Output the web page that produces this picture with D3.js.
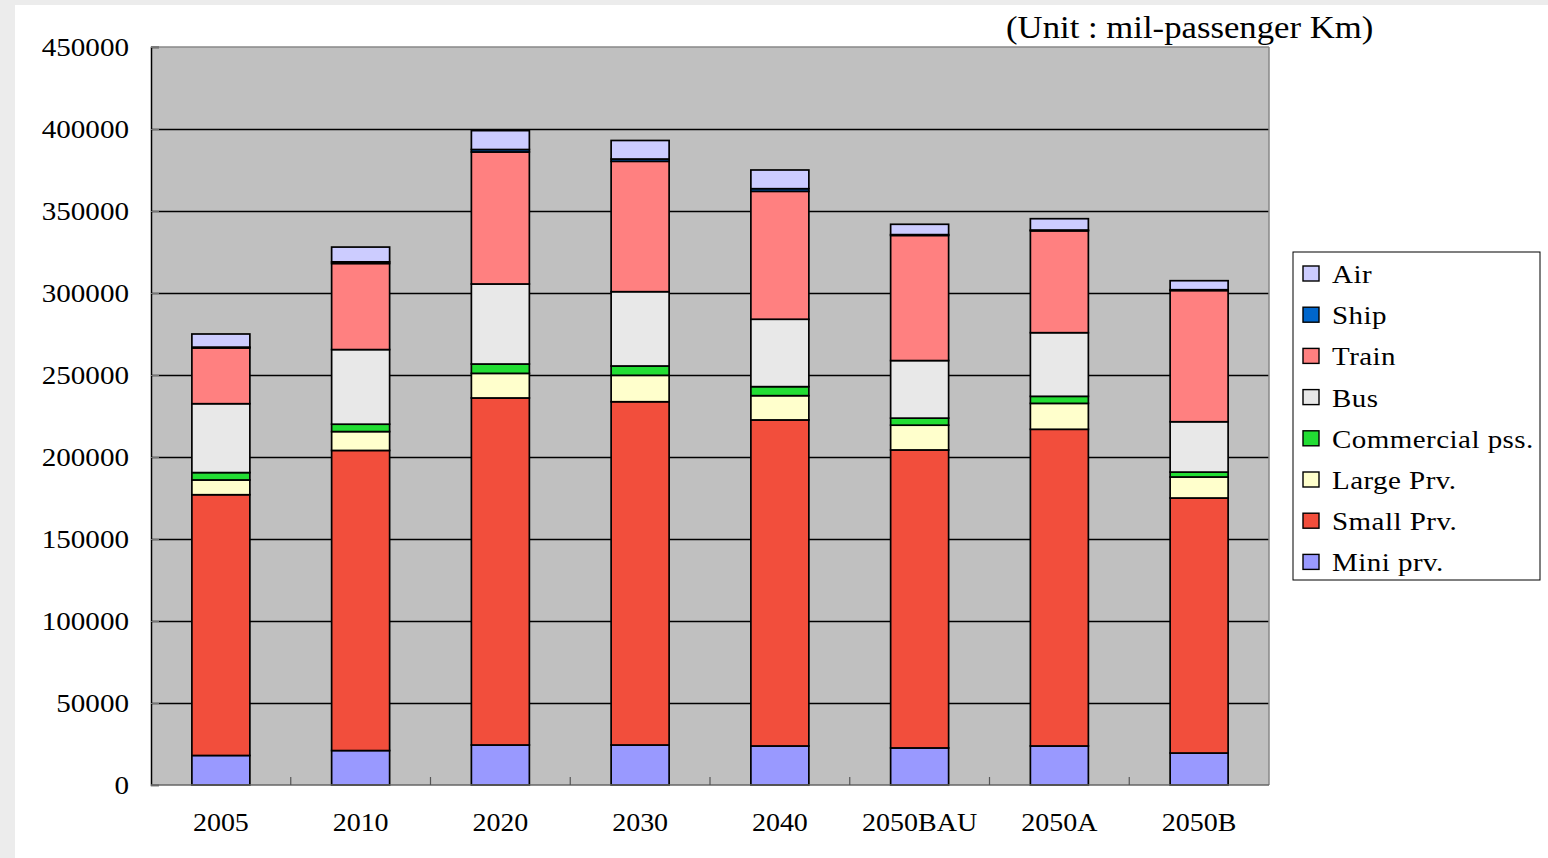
<!DOCTYPE html>
<html>
<head>
<meta charset="utf-8">
<script src="https://cdn.jsdelivr.net/npm/d3@7"></script>
<style>
  body { margin: 0; background: #ececec; }
  svg { display: block; }
  text { font-family: "Liberation Serif", "Times New Roman", serif; fill: #000; }
</style>
</head>
<body>
<div id="chart"></div>
<script>
// categories and series, bottom to top (mil-passenger km)
const categories = ['2005', '2010', '2020', '2030', '2040', '2050BAU', '2050A', '2050B'];
const seriesNames = ['Mini prv.', 'Small Prv.', 'Large Prv.', 'Commercial pss.', 'Bus', 'Train', 'Ship', 'Air'];
const miniPrv     = [18000, 21000, 24400, 24400, 23800, 22600, 23800, 19500];
const smallPrv    = [159000, 183000, 211600, 209300, 198800, 181700, 193100, 155500];
const largePrv    = [9000, 11500, 15000, 16100, 14800, 15100, 15800, 12800];
const commercial  = [4500, 4500, 5700, 5700, 5500, 4300, 4300, 3000];
const bus         = [42000, 45500, 48800, 45300, 41100, 35100, 38800, 30700];
const train       = [34000, 52500, 80500, 79500, 78000, 76300, 62100, 80000];
const ship        = [500, 1000, 1500, 1400, 1600, 500, 500, 500];
const air         = [8000, 9000, 11500, 11300, 11400, 6300, 6900, 5500];
const yTicks = [0, 50000, 100000, 150000, 200000, 250000, 300000, 350000, 400000, 450000];
const legendOrder = ['Air', 'Ship', 'Train', 'Bus', 'Commercial pss.', 'Large Prv.', 'Small Prv.', 'Mini prv.'];

const colors = {
  'Mini prv.': '#9999ff',
  'Small Prv.': '#f24e3c',
  'Large Prv.': '#ffffcc',
  'Commercial pss.': '#22dd33',
  'Bus': '#e8e8e8',
  'Train': '#ff8080',
  'Ship': '#0066cc',
  'Air': '#ccccff'
};

const seriesValues = [miniPrv, smallPrv, largePrv, commercial, bus, train, ship, air];
const rows = categories.map((c, i) => {
  const r = { cat: c };
  seriesNames.forEach((s, j) => { r[s] = seriesValues[j][i]; });
  return r;
});

const W = 1548, H = 858;
const plot = { left: 151, right: 1269, top: 47, bottom: 785 };
const sx = 1.12; // text in the original is a little wide

const svg = d3.select('#chart').append('svg')
    .attr('width', W)
    .attr('height', H);

// slide background
svg.append('rect').attr('x', 15).attr('y', 5).attr('width', W - 15).attr('height', H - 5).attr('fill', '#fff');

const x = d3.scaleBand().domain(categories).range([plot.left, plot.right]).padding(0);
const y = d3.scaleLinear().domain([0, 450000]).range([plot.bottom, plot.top]);
const barW = x.bandwidth() * 0.415;

svg.append('rect')
    .attr('x', plot.left).attr('y', plot.top)
    .attr('width', plot.right - plot.left).attr('height', plot.bottom - plot.top)
    .attr('fill', '#c0c0c0');

// gridlines
svg.append('g').selectAll('line')
  .data(yTicks.filter(d => d > 0 && d < 450000))
  .enter().append('line')
    .attr('x1', plot.left).attr('x2', plot.right)
    .attr('y1', d => Math.round(y(d)) + 0.5).attr('y2', d => Math.round(y(d)) + 0.5)
    .attr('stroke', '#000').attr('stroke-width', 1.4);

// stacked bars
const stack = d3.stack().keys(seriesNames)(rows);
const layers = svg.append('g').selectAll('g')
  .data(stack)
  .enter().append('g')
    .attr('fill', d => colors[d.key]);

layers.selectAll('rect')
  .data(d => d)
  .enter().append('rect')
    .attr('x', d => x(d.data.cat) + (x.bandwidth() - barW) / 2)
    .attr('y', d => y(d[1]))
    .attr('width', barW)
    .attr('height', d => y(d[0]) - y(d[1]))
    .attr('stroke', '#000')
    .attr('stroke-width', 1.7);

// frame
svg.append('line').attr('x1', plot.left).attr('x2', plot.right).attr('y1', plot.top).attr('y2', plot.top)
    .attr('stroke', '#888').attr('stroke-width', 1.5);
svg.append('line').attr('x1', plot.right).attr('x2', plot.right).attr('y1', plot.top).attr('y2', plot.bottom)
    .attr('stroke', '#888').attr('stroke-width', 1.5);

// y axis
const yAxis = svg.append('g')
    .attr('transform', `translate(${plot.left},0)`)
    .call(d3.axisRight(y).tickValues(yTicks).tickSize(8).tickFormat(''));
yAxis.select('.domain').attr('stroke', '#000').attr('stroke-width', 1.5);
yAxis.selectAll('.tick line').attr('stroke', '#777');

svg.append('g').selectAll('text')
  .data(yTicks)
  .enter().append('text')
    .attr('transform', d => `translate(129,${y(d) + 9}) scale(${sx},1)`)
    .attr('text-anchor', 'end')
    .style('font-size', '26px')
    .text(d => d);

// x axis
const xTicks = categories.slice(1).map(c => x(c));
const xAxisG = svg.append('g');
xAxisG.append('line')
    .attr('x1', plot.left).attr('x2', plot.right)
    .attr('y1', plot.bottom).attr('y2', plot.bottom)
    .attr('stroke', '#666').attr('stroke-width', 1.5);
xAxisG.selectAll('.xt')
  .data(xTicks)
  .enter().append('line')
    .attr('x1', d => d).attr('x2', d => d)
    .attr('y1', plot.bottom).attr('y2', plot.bottom - 8)
    .attr('stroke', '#555').attr('stroke-width', 1.2);

svg.append('g').selectAll('text')
  .data(categories)
  .enter().append('text')
    .attr('transform', d => `translate(${x(d) + x.bandwidth() / 2},831) scale(${sx},1)`)
    .attr('text-anchor', 'middle')
    .style('font-size', '25px')
    .text(d => d);

// unit label
svg.append('text')
    .attr('transform', `translate(1006,38) scale(${sx},1)`)
    .style('font-size', '31px')
    .text('(Unit : mil-passenger Km)');

// legend
const legend = svg.append('g').attr('transform', 'translate(1293,252)');
legend.append('rect')
    .attr('width', 247).attr('height', 328)
    .attr('fill', '#fff').attr('stroke', '#000').attr('stroke-width', 1);

const items = legend.selectAll('.item')
  .data(legendOrder)
  .enter().append('g')
    .attr('transform', (d, i) => `translate(0,${22 + i * 41.2})`);

items.append('rect')
    .attr('x', 10).attr('y', -8)
    .attr('width', 16).attr('height', 15)
    .attr('fill', d => colors[d])
    .attr('stroke', '#000').attr('stroke-width', 1.4);

items.append('text')
    .attr('transform', 'translate(39,9) scale(1.16,1)')
    .style('font-size', '25px')
    .style('letter-spacing', '0.4px')
    .text(d => d);
</script>
</body>
</html>
